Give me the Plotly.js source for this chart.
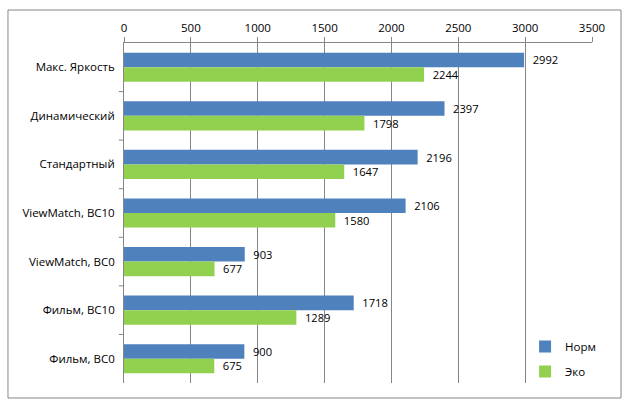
<!DOCTYPE html>
<html>
<head>
<meta charset="utf-8">
<script src="https://cdn.plot.ly/plotly-3.0.1.min.js"></script>
<style>body{margin:0;background:#fff}#chart{width:630px;height:409px}</style>
</head>
<body>
<div id="chart"></div>
<script>
const modes = ['Макс. Яркость', 'Динамический', 'Стандартный', 'ViewMatch, BC10', 'ViewMatch, BC0', 'Фильм, BC10', 'Фильм, BC0'];
const normValues = [2992, 2397, 2196, 2106, 903, 1718, 900];
const ecoValues = [2244, 1798, 1647, 1580, 677, 1289, 675];
const xTicks = [0, 500, 1000, 1500, 2000, 2500, 3000, 3500];

const labelFont = {family: 'Open Sans, DejaVu Sans, sans-serif', size: 11.5, color: '#000'};

// value labels sit a little away from the bar end, like the original
const pad = v => '\u2002' + v;

const norm = {
    y: modes,
    x: normValues,
    name: 'Норм',
    type: 'bar',
    orientation: 'h',
    legendgroup: 'a',
    marker: {color: '#4f81bd'},
    text: normValues.map(pad),
    textposition: 'outside',
    textfont: labelFont,
    cliponaxis: false
};

const eco = {
    y: modes,
    x: ecoValues,
    name: 'Эко',
    type: 'bar',
    orientation: 'h',
    legendgroup: 'b',
    marker: {color: '#92d050'},
    text: ecoValues.map(pad),
    textposition: 'outside',
    textfont: labelFont,
    cliponaxis: false
};

const layout = {
    width: 630,
    height: 409,
    margin: {l: 124, r: 38, t: 43, b: 26},
    paper_bgcolor: '#fff',
    plot_bgcolor: '#fff',
    font: labelFont,
    barmode: 'group',
    bargap: 0.4,
    bargroupgap: 0,
    showlegend: true,
    legend: {
        x: 0.857, y: 0.15, xanchor: 'left', yanchor: 'top',
        traceorder: 'grouped', tracegroupgap: 6,
        font: labelFont, bgcolor: 'rgba(0,0,0,0)'
    },
    xaxis: {
        side: 'top',
        range: [0, 3500],
        tickvals: xTicks,
        ticktext: xTicks.map(String),
        showgrid: true,
        gridcolor: '#868686',
        gridwidth: 1,
        showline: true,
        linecolor: '#868686',
        ticks: 'outside',
        ticklen: 5,
        tickcolor: '#868686',
        zeroline: false,
        tickfont: labelFont
    },
    yaxis: {
        autorange: 'reversed',
        showline: true,
        linecolor: '#868686',
        ticks: '',
        showgrid: false,
        tickfont: labelFont,
        ticksuffix: '  '
    },
    shapes: [
        {type: 'rect', xref: 'paper', yref: 'paper', x0: -0.2479, x1: 1.062, y0: -0.0441, y1: 1.097,
         line: {color: '#868686', width: 1}, fillcolor: 'rgba(0,0,0,0)', layer: 'below'}
    ].concat(modes.slice(0, -1).map((m, i) => ({
        type: 'line', xref: 'paper', yref: 'y', x0: -0.011, x1: 0, y0: i + 0.5, y1: i + 0.5,
        line: {color: '#868686', width: 1}
    })))
};

Plotly.newPlot('chart', [norm, eco], layout, {displayModeBar: false});
</script>
</body>
</html>
